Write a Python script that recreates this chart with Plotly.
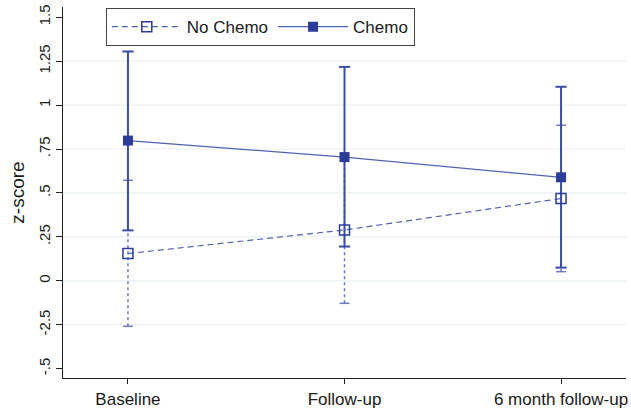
import plotly.graph_objects as go

# ---- data ----
categories = ["Baseline", "Follow-up", "6 month follow-up"]
no_chemo_mean = [0.155, 0.289, 0.468]
no_chemo_lo = [-0.259, -0.128, 0.052]
no_chemo_hi = [0.572, 0.706, 0.885]
chemo_mean = [0.798, 0.704, 0.589]
chemo_lo = [0.287, 0.195, 0.075]
chemo_hi = [1.305, 1.217, 1.104]
y_tickvals = [-0.5, -0.25, 0, 0.25, 0.5, 0.75, 1, 1.25, 1.5]
y_ticktext = ["-.5", "-2.5", "0", ".25", ".5", ".75", "1", "1.25", "1.5"]

LINE = "#3C4DA6"
MARK = "#2B3C99"
FONT = "Liberation Sans, Arial, sans-serif"


def ci_xy(lo, hi):
    xs, ys = [], []
    for c, l, h in zip(categories, lo, hi):
        xs += [c, c, None]
        ys += [l, h, None]
    return xs, ys


fig = go.Figure()

# confidence intervals (rcap style)
x1, y1 = ci_xy(no_chemo_lo, no_chemo_hi)
fig.add_trace(go.Scatter(
    x=x1, y=y1, mode="lines+markers", showlegend=False, hoverinfo="skip",
    line=dict(color="#6A78BE", width=1.5, dash="3px,3px"),
    marker=dict(symbol="line-ew", size=7, line=dict(color="#6A78BE", width=1.5)),
))
x2, y2 = ci_xy(chemo_lo, chemo_hi)
fig.add_trace(go.Scatter(
    x=x2, y=y2, mode="lines+markers", showlegend=False, hoverinfo="skip",
    line=dict(color=LINE, width=2),
    marker=dict(symbol="line-ew", size=8, line=dict(color=LINE, width=2)),
))

# connected means
fig.add_trace(go.Scatter(
    x=categories, y=no_chemo_mean, mode="lines+markers", name="No Chemo",
    line=dict(color="#5062B4", width=1.2, dash="6px,4px"),
    marker=dict(symbol="square-open", size=10, color=MARK, line=dict(color=MARK, width=1.5)),
))
fig.add_trace(go.Scatter(
    x=categories, y=chemo_mean, mode="lines+markers", name="Chemo",
    line=dict(color="#5062B4", width=1.2),
    marker=dict(symbol="square", size=10, color=MARK, line=dict(color=MARK, width=0)),
))

# interior gridlines (Stata style: none at min/max)
shapes = []
for v in y_tickvals[1:-1]:
    shapes.append(dict(type="line", xref="paper", x0=0, x1=1, yref="y", y0=v, y1=v,
                       line=dict(color="#EAF1F3", width=1.2), layer="below"))

fig.update_layout(
    width=631, height=412,
    margin=dict(l=63, r=3, t=7, b=31),
    paper_bgcolor="white", plot_bgcolor="white",
    font=dict(family=FONT, size=17, color="#1a1a1a"),
    shapes=shapes,
    showlegend=True,
    legend=dict(
        orientation="h", x=0.076, y=0.997, xanchor="left", yanchor="top",
        bordercolor="#444444", borderwidth=1, bgcolor="white",
        font=dict(family=FONT, size=17, color="#1a1a1a"),
        itemwidth=70,
    ),
    xaxis=dict(
        type="category", range=[-0.3, 2.3], showgrid=False, zeroline=False,
        showline=True, linecolor="#222222", linewidth=1.2,
        ticks="outside", ticklen=5, tickcolor="#222222",
        tickfont=dict(family=FONT, size=17, color="#1a1a1a"),
    ),
    yaxis=dict(
        range=[-0.553, 1.558], tickvals=y_tickvals, ticktext=y_ticktext,
        tickangle=-90, showgrid=False, zeroline=False,
        showline=True, linecolor="#222222", linewidth=1.2,
        ticks="outside", ticklen=6, tickcolor="#222222",
        tickfont=dict(family=FONT, size=15, color="#1a1a1a"),
        title=dict(text="z-score", font=dict(family=FONT, size=19, color="#1a1a1a"), standoff=6),
    ),
)

fig.write_html("out.html", config={"displayModeBar": False},
               post_script="document.body.style.margin='0';")
